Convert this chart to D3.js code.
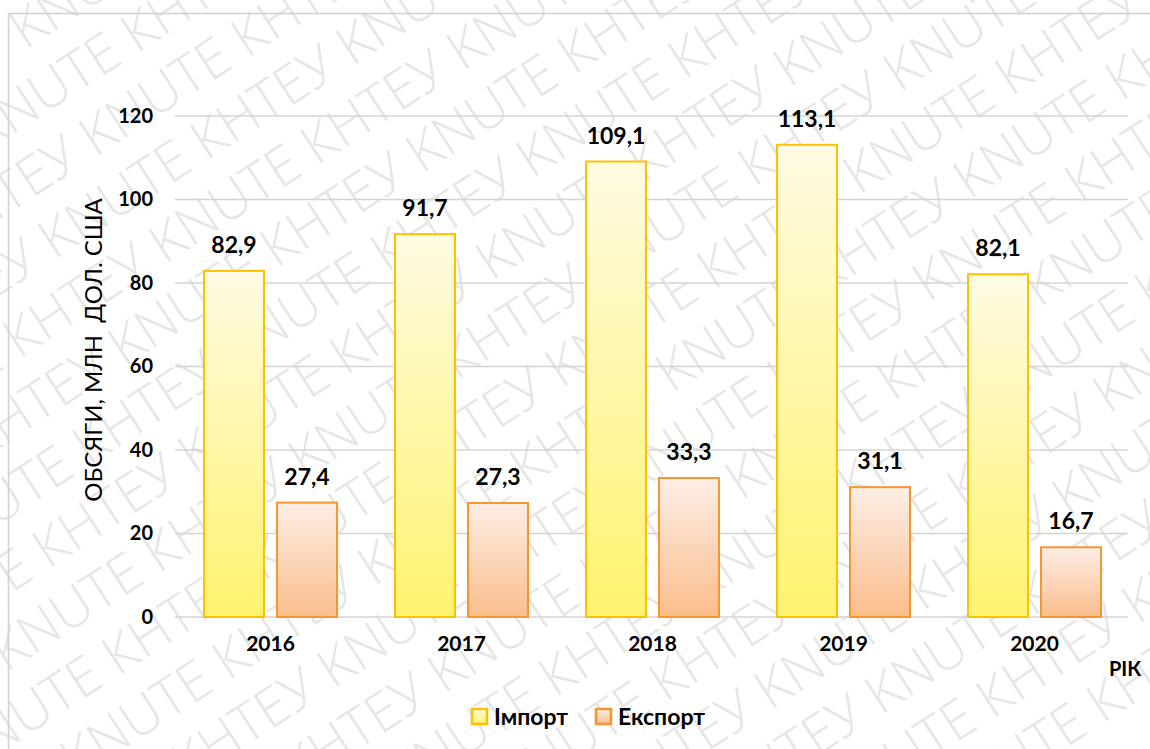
<!DOCTYPE html>
<html>
<head>
<meta charset="utf-8">
<script src="https://cdn.jsdelivr.net/npm/d3@7"></script>
<style>
body { margin: 0; background: white; }
svg { display: block; }
</style>
</head>
<body>
<svg width="1150" height="749"></svg>
<script>
var years = ['2016', '2017', '2018', '2019', '2020'];
var importVals = [82.9, 91.7, 109.1, 113.1, 82.1];
var exportVals = [27.4, 27.3, 33.3, 31.1, 16.7];
var yTicks = [0, 20, 40, 60, 80, 100, 120];
var seriesNames = ['Імпорт', 'Експорт'];

var svg = d3.select('svg');
var font = 'Lato, "Open Sans", sans-serif';

// gradients
var defs = svg.append('defs');
var g1 = defs.append('linearGradient').attr('id', 'gImp').attr('x1', 0).attr('y1', 0).attr('x2', 0).attr('y2', 1);
g1.append('stop').attr('offset', '0%').attr('stop-color', '#fffbe3');
g1.append('stop').attr('offset', '100%').attr('stop-color', '#fff36e');
var g2 = defs.append('linearGradient').attr('id', 'gExp').attr('x1', 0).attr('y1', 0).attr('x2', 0).attr('y2', 1);
g2.append('stop').attr('offset', '0%').attr('stop-color', '#fdeee6');
g2.append('stop').attr('offset', '100%').attr('stop-color', '#fbbd8c');

// watermark (behind everything)
var wm = svg.append('g').attr('transform', 'translate(575,380) rotate(-33)')
    .attr('pointer-events', 'none');
var words = 'КНТЕУ KNUTE КНТЕУ KNUTE КНТЕУ KNUTE КНТЕУ KNUTE КНТЕУ KNUTE';
d3.range(-9, 10).forEach(k => {
    wm.append('text')
        .attr('x', -900 + (k % 2 ? 90 : 0)).attr('y', k * 64)
        .attr('font-family', '"Open Sans", sans-serif').attr('font-weight', 300)
        .attr('font-size', 54).attr('fill', '#d2d2d2').attr('fill-opacity', 0.55)
        .text(words);
});

// frame
svg.append('path').attr('d', 'M8.5,760 L8.5,13.5 L1160,13.5')
    .attr('fill', 'none').attr('stroke', '#d0d0d0').attr('stroke-width', 1.5);

var x = d3.scaleBand().domain(years).range([175, 1130]);
var y = d3.scaleLinear().domain([0, 120]).range([617, 116]);
var barW = 60, gap = 13;

// grid
var grid = svg.append('g');
grid.selectAll('line').data(yTicks).enter().append('line')
    .attr('x1', 175).attr('x2', 1128)
    .attr('y1', d => y(d)).attr('y2', d => y(d))
    .attr('stroke', '#d4d4d4').attr('stroke-width', 1.5);

// y axis labels
var yAxis = svg.append('g').attr('transform', 'translate(153,0)')
    .call(d3.axisLeft(y).tickValues(yTicks).tickSize(0).tickPadding(0));
yAxis.select('.domain').remove();
yAxis.selectAll('text').attr('font-family', font).attr('font-weight', 'bold')
    .attr('font-size', 20).attr('fill', '#000');

// x axis labels
var xAxis = svg.append('g').attr('transform', 'translate(0,636)')
    .call(d3.axisBottom(x).tickSize(0).tickPadding(0));
xAxis.select('.domain').remove();
xAxis.selectAll('text').attr('font-family', font).attr('font-weight', 'bold')
    .attr('font-size', 21).attr('fill', '#000');

// bars
var groups = svg.append('g').selectAll('g').data(years).enter().append('g');
groups.append('rect')
    .attr('x', (d, i) => x(d) + x.bandwidth() / 2 - gap / 2 - barW)
    .attr('y', (d, i) => y(importVals[i]))
    .attr('width', barW)
    .attr('height', (d, i) => y(0) - y(importVals[i]))
    .attr('fill', 'url(#gImp)').attr('stroke', '#ffc000').attr('stroke-width', 2);
groups.append('rect')
    .attr('x', (d, i) => x(d) + x.bandwidth() / 2 + gap / 2)
    .attr('y', (d, i) => y(exportVals[i]))
    .attr('width', barW)
    .attr('height', (d, i) => y(0) - y(exportVals[i]))
    .attr('fill', 'url(#gExp)').attr('stroke', '#f7962f').attr('stroke-width', 2);

var fmt = v => String(v.toFixed(1)).replace('.', ',');
groups.append('text')
    .attr('x', (d, i) => x(d) + x.bandwidth() / 2 - gap / 2 - barW / 2)
    .attr('y', (d, i) => y(importVals[i]) - 18)
    .attr('text-anchor', 'middle')
    .attr('font-family', font).attr('font-weight', 'bold').attr('font-size', 23)
    .text((d, i) => fmt(importVals[i]));
groups.append('text')
    .attr('x', (d, i) => x(d) + x.bandwidth() / 2 + gap / 2 + barW / 2)
    .attr('y', (d, i) => y(exportVals[i]) - 18)
    .attr('text-anchor', 'middle')
    .attr('font-family', font).attr('font-weight', 'bold').attr('font-size', 23)
    .text((d, i) => fmt(exportVals[i]));

// axis titles
svg.append('text')
    .attr('transform', 'translate(102,350) rotate(-90)')
    .attr('text-anchor', 'middle')
    .attr('font-family', font).attr('font-size', 24)
    .attr('xml:space', 'preserve')
    .text('ОБСЯГИ, МЛН  ДОЛ. США');
svg.append('text')
    .attr('x', 1125).attr('y', 676).attr('text-anchor', 'middle')
    .attr('font-family', font).attr('font-weight', 'bold').attr('font-size', 20)
    .text('РІК');

// legend
var legend = svg.append('g');
var legX = [472, 596];
var legFill = ['url(#gImp)', 'url(#gExp)'];
var legStroke = ['#ffc000', '#f7962f'];
seriesNames.forEach((n, i) => {
    legend.append('rect').attr('x', legX[i]).attr('y', 709).attr('width', 15).attr('height', 15)
        .attr('fill', legFill[i]).attr('stroke', legStroke[i]).attr('stroke-width', 2.5);
    legend.append('text').attr('x', legX[i] + 22).attr('y', 725)
        .attr('font-family', font).attr('font-weight', 'bold').attr('font-size', 23)
        .text(n);
});
</script>
</body>
</html>
